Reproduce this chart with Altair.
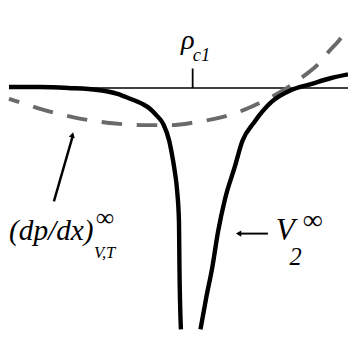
import altair as alt
import pandas as pd

# x: density relative to rho_c1 ; y: value relative to zero line (arbitrary units)
v2_left_x = [-188, -157, -127, -97, -77, -64, -52, -44, -37, -30, -24, -21, -18.5, -16, -14, -13.5, -12]
v2_left_y = [1, 1, 0, -2, -6, -11, -16, -21, -28, -37, -54, -69, -84, -104, -137, -184, -247]
v2_right_x = [8, 14, 20, 26, 33, 43, 51, 63, 81, 101, 121, 141, 159]
v2_right_y = [-247, -214, -184, -147, -114, -81, -54, -35, -14, -2, 4, 10, 14]
dp_x = [-188, -157, -117, -82, -51, -22, 3, 29, 56, 73, 95, 116, 128, 140, 150, 161]
dp_y = [-11, -21, -31, -36, -38, -38, -35, -30, -21, -13, -1, 14, 24, 38, 49, 64]

x_dom = [-189, 159]
y_dom = [-254, 78]
axis_span = [-188, 159]
tick_top = 20

labels = [
    {"t": "ρ", "x": -12, "y": 40, "s": 29, "b": "alphabetic"},
    {"t": "c1", "x": 0, "y": 28, "s": 19, "b": "alphabetic"},
    {"t": "(dp/dx)", "x": -188, "y": -156, "s": 30, "b": "alphabetic"},
    {"t": "∞", "x": -99, "y": -133, "s": 26, "b": "middle"},
    {"t": "V,T", "x": -101, "y": -174, "s": 17, "b": "alphabetic"},
    {"t": "V", "x": 85, "y": -156, "s": 32, "b": "alphabetic"},
    {"t": "2", "x": 99, "y": -181, "s": 25, "b": "alphabetic"},
    {"t": "∞", "x": 113, "y": -136, "s": 28, "b": "middle"},
]

arrows = [
    {"x": -142, "y": -116, "x2": -123, "y2": -50, "w": 2.5},
    {"x": 77, "y": -149, "x2": 47, "y2": -149, "w": 2},
]
heads = [
    {"x": -123, "y": -48, "shape": "triangle-up", "angle": 15.7},
    {"x": 47, "y": -149, "shape": "triangle-left", "angle": 0},
]

xs = alt.Scale(domain=x_dom, nice=False, zero=False)
ys = alt.Scale(domain=y_dom, nice=False, zero=False)

def X(f="x"):
    return alt.X(f"{f}:Q", scale=xs, axis=None)

def Y(f="y"):
    return alt.Y(f"{f}:Q", scale=ys, axis=None)

curve_df = pd.concat([
    pd.DataFrame({"x": v2_left_x, "y": v2_left_y, "seg": "L", "o": range(len(v2_left_x))}),
    pd.DataFrame({"x": v2_right_x, "y": v2_right_y, "seg": "R", "o": range(len(v2_right_x))}),
])
dp_df = pd.DataFrame({"x": dp_x, "y": dp_y, "o": range(len(dp_x))})

axis_df = pd.DataFrame({"x": [axis_span[0]], "x2": [axis_span[1]], "y": [0]})
tick_df = pd.DataFrame({"x": [0], "y": [0], "y2": [tick_top]})

axis_line = alt.Chart(axis_df).mark_rule(color="black", strokeWidth=1.6).encode(
    x=X(), x2="x2:Q", y=Y())
tick = alt.Chart(tick_df).mark_rule(color="black", strokeWidth=1.8).encode(
    x=X(), y=Y(), y2="y2:Q")

dashed = alt.Chart(dp_df).mark_line(
    color="#6a6a6a", strokeWidth=4, strokeDash=[21, 15], strokeDashOffset=10,
    interpolate="monotone", clip=True
).encode(x=X(), y=Y(), order="o:Q")

solid = alt.Chart(curve_df).mark_line(
    color="black", strokeWidth=4.5, interpolate="monotone", clip=True, strokeCap="butt"
).encode(x=X(), y=Y(), detail="seg:N", order="o:Q")

arrow_lines = alt.Chart(pd.DataFrame(arrows)).mark_rule(color="black").encode(
    x=X(), y=Y(), x2="x2:Q", y2="y2:Q", strokeWidth=alt.StrokeWidth("w:Q", scale=None))
arrow_heads = alt.Chart(pd.DataFrame(heads)).mark_point(
    filled=True, color="black", size=40, opacity=1
).encode(x=X(), y=Y(), shape=alt.Shape("shape:N", scale=None),
         angle=alt.Angle("angle:Q", scale=None))

lab_df = pd.DataFrame(labels)
texts = []
for b in ["alphabetic", "middle"]:
    sub = lab_df[lab_df.b == b]
    texts.append(alt.Chart(sub).mark_text(
        font="Liberation Serif", fontStyle="italic", align="left", baseline=b, color="black"
    ).encode(x=X(), y=Y(), text="t:N", size=alt.Size("s:Q", scale=None)))

chart = alt.layer(axis_line, tick, dashed, solid, arrow_lines, arrow_heads, *texts).properties(
    width=348, height=332, padding=0,
    autosize=alt.AutoSizeParams(type="none"),
    background="white",
).configure_view(stroke=None)

chart.save("out.html", embed_options={"renderer": "svg", "actions": False})
